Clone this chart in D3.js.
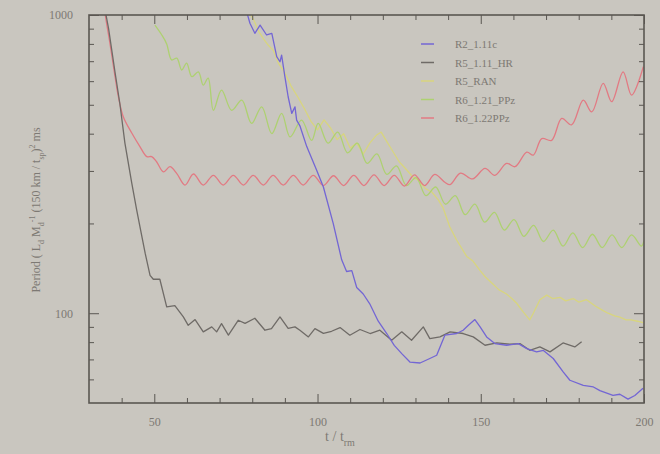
<!DOCTYPE html>
<html><head><meta charset="utf-8">
<script src="https://cdn.jsdelivr.net/npm/d3@7"></script>
<style>
html,body{margin:0;padding:0;background:#c9c6bf;}
svg{display:block;}
text{font-family:"Liberation Serif","DejaVu Serif",serif;}
</style></head>
<body>
<svg id="chart" width="660" height="454"></svg>
<script>
// ---- data ----
const seriesNames = ["R2_1.11c", "R5_1.11_HR", "R5_RAN", "R6_1.21_PPz", "R6_1.22PPz"];

const r2_t = [77.5,79.3,80.8,82.4,84.4,86.0,87.5,88.5,89.0,90.0,91.0,92.1,93.1,93.6,94.6,96.7,99.7,101.8,104.8,107.4,108.9,110.5,112.0,114.0,116.1,118.6,121.2,123.5,125.8,128.3,131.4,134.4,136.5,139.0,142.6,144.6,146.2,148.2,149.8,151.8,154.3,157.9,161.5,164.1,167.1,169.2,172.2,175.3,177.3,181.4,184.5,186.5,190.5,192.6,195.1,197.2,199.7];
const r2_v = [1100,938,868,925,857,868,725,697,734,621,532,468,492,444,425,362,302,265,200,151,138,139,122,116,107,94,85.5,78,73.2,68.6,68.1,70.5,72.3,84.4,85.5,87.7,91.1,95.2,90,83.3,79.1,78.1,79.1,76.1,74.2,75,70.5,63.5,59.6,57.3,56.6,55,53,53.5,51.5,53,56];

const r5hr_t = [33.0,34.5,36.0,38.0,39.5,41.0,43.1,44.6,45.6,47.2,48.7,49.7,51.7,53.8,56.3,58.9,60.4,62.5,65.0,67.6,69.1,70.6,72.7,75.7,77.8,80.8,83.9,85.9,88.5,91.0,93.1,94.6,97.2,99.2,101.8,104.3,106.9,109.9,113.0,116.1,119.1,122.7,125.8,128.8,132.4,134.4,137.5,140.6,144.6,147.7,151.3,154.9,158.9,162.0,165.0,168.1,171.2,175.2,178.8,180.9];
const r5hr_v = [1400,1100,900,640,500,372,273,222,195,159,134,130,130,105,106,97.2,91.1,95.2,86.6,90,86.6,92.3,84.4,94.7,92.5,96.2,87.7,88.8,97.2,89,90,87.7,83.3,88.8,85.6,87,89.5,84.4,88.2,85.5,87.7,81.2,86.6,81.2,90,82.2,83.3,86.6,85.5,83.3,78.1,79.5,78.7,79.1,75.1,77.1,74.2,79.5,77.1,80.2];

const r5ran_t = [78.5,80.5,82.0,83.5,85.0,86.5,88.0,90.0,92.0,94.0,96.0,98.0,100.0,102.0,104.0,106.0,108.0,110.0,112.0,114.0,116.0,118.0,119.5,121.0,123.0,125.0,127.0,129.0,131.0,133.0,135.0,137.0,138.5,140.5,142.6,145.7,147.5,149.8,151.5,153.8,155.5,157.9,159.5,161.0,163.0,165.0,166.1,168.1,170.2,172.0,174.3,176.0,178.3,180.0,182.4,185.5,187.5,189.0,191.0,192.6,194.5,196.0,198.0,199.7];
const r5ran_v = [1050,960,880,830,790,760,690,640,575,530,485,440,412,445,418,382,400,358,372,342,372,395,405,380,350,322,305,288,278,262,255,240,225,195,176,155,150,139,132,125,120,116,112,108,101,95,100,111,115,112,113,110,112,109,111,105,102,100,98,97,95,95,94,93];

const r6a_t = [50.2,52.3,53.8,55.3,56.9,58.4,59.9,61.5,63.5,65.0,66.5,68.1,70.6,73.7,76.8,79.8,82.9,86.0,89.0,91.6,95.1,98.2,100.2,103.2,106.2,109.2,112.2,115.2,118.2,121.2,124.2,127.2,130.2,133.2,136.2,139.2,142.2,145.2,148.2,151.2,154.2,157.2,160.2,163.2,166.2,169.2,172.2,175.2,178.2,181.2,184.2,187.2,190.2,193.2,196.2,199.2,200];
const r6a_v = [925,857,800,707,717,654,690,621,645,582,614,479,560,479,518,433,492,400,468,390,444,380,433,372,405,345,372,318,342,292,312,268,285,248,265,232,248,214,232,202,218,190,206,181,197,174,190,168,186,166,184,166,183,166,183,168,175];

const r6b_t = [33.5,34.7,36.4,38.0,39.0,40.5,43.1,45.6,47.7,49.2,50.7,52.8,54.8,56.9,59.4,62.0,65.0,68.1,71.1,74.2,77.3,80.3,83.4,86.4,89.5,92.6,95.6,98.7,101.8,104.9,108.0,111.1,114.2,117.3,120.4,123.5,126.6,129.7,132.8,135.9,139.0,140.6,143.8,147.5,151.3,154.3,157.9,160.5,164.1,166.1,168.7,171.7,174.8,177.8,181.4,184.0,187.5,190.1,193.6,196.2,199.8];
const r6b_v = [1400,1050,805,619,532,456,402,362,335,335,322,298,310,294,269,293,269,290,269,290,269,290,269,290,269,290,269,290,268,289,268,290,268,291,268,290,267,291,268,292,275,270,295,282,306,290,318,310,347,339,385,380,450,428,518,473,590,512,645,539,671];

const xMajor = [50, 100, 150, 200];
const xMinor = [40, 60, 70, 80, 90, 110, 120, 130, 140, 160, 170, 180, 190];
const yMajor = [100, 1000];
const yMinor = [60, 70, 80, 90, 200, 300, 400, 500, 600, 700, 800, 900];

const seriesColors = ["#7366d4", "#6f6b67", "#d8d57e", "#aed171", "#e27a83"];

// ---- build ----
const series = [
  {name: seriesNames[0], t: r2_t, v: r2_v, color: seriesColors[0], smooth: false},
  {name: seriesNames[1], t: r5hr_t, v: r5hr_v, color: seriesColors[1], smooth: false},
  {name: seriesNames[2], t: r5ran_t, v: r5ran_v, color: seriesColors[2], smooth: false},
  {name: seriesNames[3], t: r6a_t, v: r6a_v, color: seriesColors[3], smooth: true},
  {name: seriesNames[4], t: r6b_t, v: r6b_v, color: seriesColors[4], smooth: true}
];

const svg = d3.select("#chart");
const L = 89, R = 644, T = 15, B = 403;
const x = d3.scaleLinear().domain([30, 200]).range([L, R]);
const y = d3.scaleLog().domain([50, 1000]).range([B, T]);

svg.append("rect").attr("width", 660).attr("height", 454).attr("fill", "#c9c6bf");

svg.append("defs").append("clipPath").attr("id", "clip")
  .append("rect").attr("x", L).attr("y", T).attr("width", R - L).attr("height", B - T);

const lineStraight = d3.line().x(d => x(d[0])).y(d => y(d[1]));
const lineSmooth = d3.line().x(d => x(d[0])).y(d => y(d[1])).curve(d3.curveCatmullRom.alpha(0.5));
const gLines = svg.append("g").attr("clip-path", "url(#clip)");
// draw in order: yellow, green, red, black, blue
[2, 3, 4, 1, 0].forEach(i => {
  const s = series[i];
  gLines.append("path")
    .datum(s.t.map((t, k) => [t, s.v[k]]))
    .attr("d", s.smooth ? lineSmooth : lineStraight)
    .attr("fill", "none")
    .attr("stroke", s.color)
    .attr("stroke-width", 1.3)
    .attr("stroke-linejoin", "round");
});

const axisColor = "#5a5752";
const labelColor = "#7d7973";
function styleAxis(g) {
  g.select(".domain").remove();
  g.selectAll("line").attr("stroke", axisColor).attr("stroke-width", 1);
  g.selectAll("text").attr("fill", labelColor).style("font-size", "12px")
    .style("font-family", "'Liberation Serif', serif");
}

// bottom
svg.append("g").attr("transform", `translate(0,${B})`)
  .call(d3.axisBottom(x).tickValues(xMajor).tickSizeInner(-9).tickSizeOuter(0).tickPadding(14).tickFormat(d3.format("d")))
  .call(styleAxis);
svg.append("g").attr("transform", `translate(0,${B})`)
  .call(d3.axisBottom(x).tickValues(xMinor).tickSizeInner(-5).tickSizeOuter(0).tickFormat(""))
  .call(styleAxis);
// top
svg.append("g").attr("transform", `translate(0,${T})`)
  .call(d3.axisTop(x).tickValues(xMajor).tickSizeInner(-9).tickSizeOuter(0).tickFormat(""))
  .call(styleAxis);
svg.append("g").attr("transform", `translate(0,${T})`)
  .call(d3.axisTop(x).tickValues(xMinor).tickSizeInner(-5).tickSizeOuter(0).tickFormat(""))
  .call(styleAxis);
// left
svg.append("g").attr("transform", `translate(${L},0)`)
  .call(d3.axisLeft(y).tickValues(yMajor).tickSizeInner(-10).tickSizeOuter(0).tickPadding(16).tickFormat(d3.format("d")))
  .call(styleAxis);
svg.append("g").attr("transform", `translate(${L},0)`)
  .call(d3.axisLeft(y).tickValues(yMinor).tickSizeInner(-5).tickSizeOuter(0).tickFormat(""))
  .call(styleAxis);
// right
svg.append("g").attr("transform", `translate(${R},0)`)
  .call(d3.axisRight(y).tickValues(yMajor).tickSizeInner(-10).tickSizeOuter(0).tickFormat(""))
  .call(styleAxis);
svg.append("g").attr("transform", `translate(${R},0)`)
  .call(d3.axisRight(y).tickValues(yMinor).tickSizeInner(-5).tickSizeOuter(0).tickFormat(""))
  .call(styleAxis);

// frame
svg.append("rect").attr("x", L).attr("y", T).attr("width", R - L).attr("height", B - T)
  .attr("fill", "none").attr("stroke", axisColor).attr("stroke-width", 1.6);

// legend
const lg = svg.append("g");
series.forEach((s, i) => {
  const yy = 44 + i * 18.5;
  lg.append("line").attr("x1", 421).attr("x2", 434).attr("y1", yy).attr("y2", yy)
    .attr("stroke", s.color).attr("stroke-width", 1.5);
  lg.append("text").attr("x", 455).attr("y", yy + 4).text(s.name)
    .attr("fill", labelColor).style("font-size", "11px");
});

// x title
const xt = svg.append("text").attr("x", 340).attr("y", 441).attr("text-anchor", "middle")
  .attr("fill", labelColor).style("font-size", "14px");
xt.append("tspan").text("t / t");
xt.append("tspan").attr("dy", 5).style("font-size", "10px").text("rm");

// y title
const yt = svg.append("text").attr("transform", "translate(40,210) rotate(-90)")
  .attr("text-anchor", "middle").attr("fill", labelColor).style("font-size", "12px");
yt.append("tspan").text("Period ( L");
yt.append("tspan").attr("dy", 4).style("font-size", "8px").text("d");
yt.append("tspan").attr("dy", -4).text(" M");
yt.append("tspan").attr("dy", 4).style("font-size", "8px").text("d");
yt.append("tspan").attr("dy", -9).style("font-size", "8px").text("-1");
yt.append("tspan").attr("dy", 5).text(" (150 km / t");
yt.append("tspan").attr("dy", 4).style("font-size", "8px").text("sp");
yt.append("tspan").attr("dy", -4).text(")");
yt.append("tspan").attr("dy", -5).style("font-size", "8px").text("2");
yt.append("tspan").attr("dy", 5).text(" ms");
</script>
</body></html>
